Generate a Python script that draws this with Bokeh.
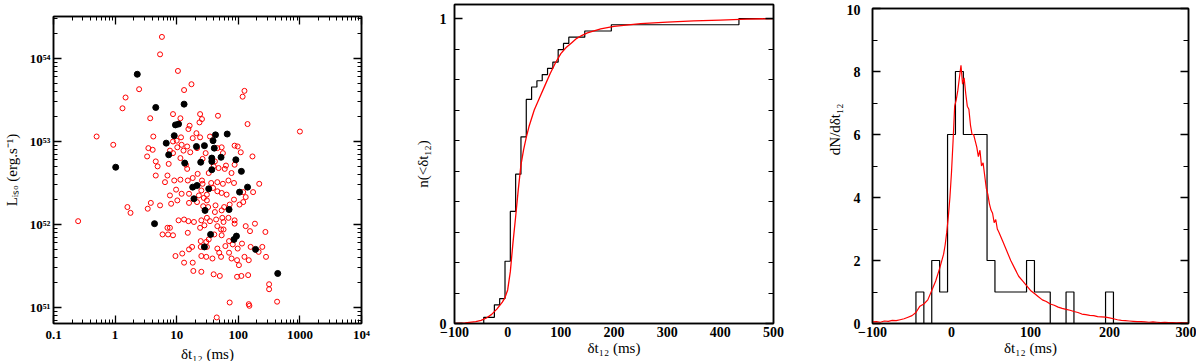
import numpy as np
from bokeh.plotting import figure
from bokeh.layouts import row, column
from bokeh.models import Range1d, FixedTicker, LinearAxis, LogAxis, Title, Spacer
from bokeh.embed import file_html
from bokeh.resources import INLINE

FONT = "Liberation Serif"

# ---------------- Panel 1 data (log10 values) ----------------
red_log_dt = [0.76, 0.73, 1.02, 1.24, 0.39, 1.12, 0.17, 0.12, 2.10, 2.07,
              0.57, 0.94, 1.06, 1.38, 1.41, 1.37, 1.67, 1.21, 1.19, 2.15,
              -0.30, -0.03, 0.62, 1.32, 1.00, 1.07, 0.54, 0.61, 0.52, 0.66,
              0.94, 1.01, 1.08, 1.17, 1.22, 1.11, 1.33, 1.26, 1.47, 1.42,
              1.38, 1.54, 1.73, 1.66, 1.75, 1.94, 1.99, 1.94, 2.04, 2.23,
              1.80, 1.89, 1.78, 1.60, 1.62, 1.68, 1.52, 1.34, 1.17, 1.15,
              1.06, 0.87, 0.85, 0.69, 0.66, 0.81, 0.96, 1.06, 1.18, 1.26,
              1.41, 1.42, 1.56, 1.66, 1.75, 1.84, 1.93, 2.08, 2.34, 2.24,
              2.12, 2.08, 2.02, 1.93, 1.81, 1.73, 1.66, 1.59, 1.49, 1.40,
              1.36, 1.20, 1.08, 0.99, 0.89, 0.91, 1.01, 1.20, 1.33, 1.44,
              1.49, 1.43, 1.51, 1.63, 1.62, 1.73, 1.77, 1.86, 1.84, 1.74,
              1.64, 1.49, 1.40, 1.28, 1.19, 1.12, 1.03, 0.89, 0.94, 0.77,
              1.18, 1.38, 1.45, 1.54, 1.66, 1.72, 1.76, 1.76, 1.94, 1.94,
              2.12, 2.19, 2.27, 2.44, 2.06, 1.99, 1.91, 1.85, 1.79, 1.73,
              1.61, 1.52, 1.48, 1.49, 1.39, 1.39, 1.25, 1.20, 1.09, 0.98,
              1.66, 1.69, 1.72, 1.85, 1.89, 1.98, 2.01, 2.10, 2.20, 2.39,
              2.33, 2.45, 2.17, 2.05, 1.98, 2.16, 2.50, 2.50, 1.60, 1.58,
              1.48, 1.40, 1.26, 1.12, 1.40, 1.70, 1.27, 1.86, 2.17, 2.18,
              2.63, 1.65, 0.20, 0.25, -0.60, 0.53, 0.58, 0.73, 0.85, 0.86,
              3.00, 0.94, 0.89]
red_log_L = [54.26, 54.05, 53.85, 53.69, 53.63, 53.62, 53.53, 53.40, 53.61, 53.54,
             53.28, 53.33, 53.28, 53.33, 53.27, 53.23, 53.31, 53.19, 53.15, 53.21,
             53.06, 52.96, 53.06, 53.10, 53.01, 53.05, 52.92, 52.90, 52.82, 52.76,
             52.86, 52.93, 52.96, 52.94, 52.87, 52.89, 52.92, 53.04, 52.86, 52.79,
             53.05, 53.06, 52.93, 52.92, 52.86, 52.95, 52.94, 52.72, 52.87, 52.82,
             52.71, 52.62, 52.67, 52.70, 52.76, 52.68, 52.62, 52.61, 52.67, 52.72,
             52.80, 52.73, 52.59, 52.70, 52.59, 52.51, 52.53, 52.54, 52.53, 52.56,
             52.53, 52.49, 52.50, 52.51, 52.49, 52.53, 52.50, 52.39, 52.49, 52.39,
             52.33, 52.27, 52.24, 52.30, 52.36, 52.38, 52.40, 52.44, 52.36, 52.41,
             52.35, 52.37, 52.37, 52.42, 52.35, 52.25, 52.29, 52.26, 52.27, 52.32,
             52.29, 52.22, 52.21, 52.23, 52.15, 52.17, 52.21, 52.24, 52.08, 52.08,
             52.06, 52.08, 52.05, 52.03, 52.04, 52.06, 52.05, 51.96, 51.87, 51.88,
             51.90, 51.96, 51.99, 52.04, 51.98, 51.94, 51.94, 52.03, 52.05, 52.01,
             51.98, 51.92, 52.01, 51.91, 51.77, 51.71, 51.76, 51.80, 51.74, 51.87,
             51.88, 51.82, 51.79, 51.73, 51.80, 51.73, 51.73, 51.70, 51.65, 51.62,
             51.71, 51.66, 51.61, 51.66, 51.59, 51.57, 51.51, 51.61, 51.73, 51.73,
             51.67, 51.61, 51.57, 51.38, 51.37, 51.39, 51.28, 51.22, 51.40, 51.59,
             51.61, 51.62, 51.54, 51.54, 51.43, 51.38, 51.44, 51.06, 51.04, 51.02,
             51.07, 50.88, 52.21, 52.14, 52.04, 52.19, 52.26, 52.23, 51.96, 51.88,
             53.12, 53.00, 52.89]

blk_log_dt = [0.36, 0.66, 1.12, 0.98, 1.03, 0.96, 1.63, 1.82, 0.83, 1.59,
              1.32, 1.45, 1.61, 0.87, 1.72, 1.96, 1.13, 1.39, 1.57, 1.57,
              2.05, 1.57, 2.15, 2.02, 1.26, 1.33, 1.52, 1.28, 1.46, 1.85,
              0.64, 1.55, 1.97, 1.93, 1.45, 2.28, 2.64, 0.01]
blk_log_L = [53.81, 53.41, 53.45, 53.20, 53.21, 53.07, 53.08, 53.09, 52.98, 53.01,
             52.94, 52.95, 52.92, 52.84, 52.81, 52.78, 52.74, 52.75, 52.80, 52.76,
             52.64, 52.66, 52.45, 52.39, 52.45, 52.47, 52.43, 52.31, 52.17, 52.18,
             52.01, 51.88, 51.86, 51.82, 51.73, 51.70, 51.41, 52.69]

# ---------------- Panels 2 & 3 data ----------------
hist_centers = [-40, -30, -20, -10, 0, 10, 20, 30, 40, 50, 60, 70, 80, 90, 100,
                110, 120, 130, 140, 150, 160, 170, 180, 190, 200]
hist_counts = [1, 0, 2, 1, 6, 8, 6, 6, 6, 2, 1, 1, 1, 1, 2,
               1, 1, 0, 0, 1, 0, 0, 0, 0, 1]
late_events = [440]
bin_width = 10

cdf_model_x = [-100, -80, -60, -50, -40, -30, -20, -10, -5, 0, 5, 10, 15, 20, 25, 30, 35, 40,
               50, 60, 70, 80, 90, 100, 110, 120, 130, 140, 150, 175, 200, 250, 300, 350,
               400, 450, 500]
cdf_model_y = [0.0, 0.002, 0.006, 0.010, 0.018, 0.030, 0.048, 0.070, 0.085, 0.11, 0.17, 0.265,
               0.35, 0.44, 0.52, 0.57, 0.61, 0.645, 0.70, 0.74, 0.78, 0.82, 0.855, 0.885,
               0.905, 0.92, 0.935, 0.945, 0.953, 0.966, 0.974, 0.983, 0.988, 0.992, 0.995,
               0.998, 1.0]

dens_x = [-100, -95, -90, -85, -80, -75, -70, -65, -60, -55, -50, -45, -40, -35, -30, -25,
          -20, -15, -10, -8, -6, -4, -2, 0, 2, 4, 6, 8, 10, 12, 14, 16, 18, 20, 22, 24, 26,
          28, 30, 32, 34, 36, 38, 40, 42, 44, 46, 48, 50, 52, 54, 56, 58, 60, 65, 70, 75,
          80, 85, 90, 95, 100, 105, 110, 115, 120, 125, 130, 135, 140, 145, 150, 155, 160,
          165, 170, 175, 180, 185, 190, 195, 200, 205, 210, 215, 220, 225, 230, 235, 240,
          245, 250, 255, 260, 265, 270, 275, 280, 285, 290, 295, 300]
dens_y = [0.05, 0.06, 0.04, 0.08, 0.07, 0.10, 0.09, 0.12, 0.15, 0.20, 0.25, 0.35, 0.55,
          0.62, 0.75, 1.05, 1.35, 1.75, 2.2, 2.5, 2.9, 3.4, 4.0, 4.8, 5.8, 6.9, 7.1, 7.4,
          7.8, 8.2, 7.6, 7.8, 7.3, 6.9, 6.8, 6.3, 6.0, 6.0, 5.8, 5.6, 5.3, 5.5, 5.0, 5.1,
          4.7, 4.3, 4.1, 3.8, 3.6, 3.5, 3.2, 3.3, 3.0, 2.9, 2.6, 2.3, 2.0, 1.75, 1.5, 1.35,
          1.2, 1.05, 0.95, 0.85, 0.75, 0.70, 0.62, 0.58, 0.52, 0.48, 0.45, 0.42, 0.38, 0.35,
          0.30, 0.28, 0.26, 0.25, 0.22, 0.21, 0.20, 0.18, 0.15, 0.12, 0.10, 0.09, 0.08, 0.07,
          0.06, 0.06, 0.05, 0.04, 0.05, 0.04, 0.03, 0.04, 0.03, 0.03, 0.02, 0.03, 0.02, 0.02]

# tick label texts
p1_x_labels = {0.1: "0.1", 1: "1", 10: "10", 100: "100", 1000: "1000", 10000: "10⁴"}
p1_y_labels = {1e51: "10⁵¹", 1e52: "10⁵²", 1e53: "10⁵³", 1e54: "10⁵⁴"}


def style(ax, major_in, minor_in, labels=True, lab_size="14px", standoff=3):
    ax.axis_line_color = "black"
    ax.axis_line_width = 1.5
    ax.major_tick_in = major_in
    ax.major_tick_out = 0
    ax.minor_tick_in = minor_in
    ax.minor_tick_out = 0
    ax.major_tick_line_color = "black"
    ax.minor_tick_line_color = "black"
    ax.major_tick_line_width = 1.3
    ax.minor_tick_line_width = 1
    if labels:
        ax.major_label_text_font = FONT
        ax.major_label_text_font_style = "bold"
        ax.major_label_text_font_size = lab_size
        ax.major_label_text_color = "black"
        ax.major_label_standoff = standoff
    else:
        ax.major_label_text_font_size = "1px"
        ax.major_label_text_color = None
        ax.major_label_standoff = 0
    ax.axis_label_text_font = FONT
    ax.axis_label_text_font_style = "normal"
    ax.axis_label_text_font_size = "15px"
    ax.axis_label_text_color = "black"


def base_fig(**kw):
    p = figure(output_backend="svg", toolbar_location=None, **kw)
    p.grid.visible = False
    p.outline_line_color = "black"
    p.outline_line_width = 1.5
    p.background_fill_color = "white"
    p.border_fill_color = "white"
    return p


# ---------------- Panel 1 ----------------
p1 = base_fig(frame_width=308, frame_height=307, x_axis_type="log", y_axis_type="log",
              x_range=Range1d(0.1, 1e4), y_range=Range1d(10 ** 50.807, 10 ** 54.506),
              min_border_left=52, min_border_right=40, min_border_top=4, min_border_bottom=38)
x_major = [0.1, 1, 10, 100, 1000, 10000]
x_minor = [m * 10.0 ** e for e in range(-1, 4) for m in range(2, 10)]
y_major = [1e51, 1e52, 1e53, 1e54]
y_minor = [m * 10.0 ** e for e in range(50, 55) for m in range(2, 10)]

xa = p1.xaxis[0]
xa.ticker = FixedTicker(ticks=x_major, minor_ticks=x_minor)
xa.major_label_overrides = p1_x_labels
xa.axis_label = "δt₁₂ (ms)"
style(xa, 8, 4, lab_size="13px", standoff=3)
xa.axis_label_standoff = 1
ya = p1.yaxis[0]
ya.ticker = FixedTicker(ticks=y_major, minor_ticks=y_minor)
ya.major_label_overrides = p1_y_labels
ya.axis_label = "Lᵢₛₒ (erg.s⁻¹)"
style(ya, 8, 4, lab_size="13px", standoff=3)
ya.axis_label_standoff = 7

top1 = LogAxis(ticker=FixedTicker(ticks=x_major, minor_ticks=x_minor))
style(top1, 8, 4, labels=False)
p1.add_layout(top1, "above")
right1 = LogAxis(ticker=FixedTicker(ticks=y_major, minor_ticks=y_minor))
style(right1, 8, 4, labels=False)
p1.add_layout(right1, "right")

p1.scatter(x=[10 ** v for v in red_log_dt], y=[10 ** v for v in red_log_L], marker="circle",
           size=5, fill_color=None, line_color="#ff0000", line_width=1)
p1.scatter(x=[10 ** v for v in blk_log_dt], y=[10 ** v for v in blk_log_L], marker="circle",
           size=6, fill_color="black", line_color="black")

# ---------------- Panel 2 ----------------
p2 = base_fig(frame_width=319, frame_height=319, x_range=Range1d(-100, 500),
              y_range=Range1d(0, 1.046),
              min_border_left=53, min_border_right=48, min_border_top=4, min_border_bottom=38)
xt2 = [-100, 0, 100, 200, 300, 400, 500]
xa2 = p2.xaxis[0]
xa2.ticker = FixedTicker(ticks=xt2, minor_ticks=[])
xa2.major_label_overrides = {-100: "−100"}
xa2.axis_label = "δt₁₂ (ms)"
style(xa2, 0, 0, lab_size="14px", standoff=3)
xa2.axis_label_standoff = 0
y2_minor = [0.1, 0.2, 0.3, 0.4, 0.5, 0.6, 0.7, 0.8, 0.9]
ya2 = p2.yaxis[0]
ya2.ticker = FixedTicker(ticks=[0, 1], minor_ticks=y2_minor)
ya2.axis_label = "n(<δt₁₂)"
style(ya2, 8, 5, lab_size="14px", standoff=8)
ya2.axis_label_standoff = 6
top2 = LinearAxis(ticker=FixedTicker(ticks=xt2, minor_ticks=[]))
style(top2, 0, 0, labels=False)
p2.add_layout(top2, "above")
right2 = LinearAxis(ticker=FixedTicker(ticks=[0, 1], minor_ticks=y2_minor))
style(right2, 8, 5, labels=False)
p2.add_layout(right2, "right")

total = sum(hist_counts) + len(late_events)
event_x = [c for c, n in zip(hist_centers, hist_counts) if n > 0] + late_events
event_n = [n for n in hist_counts if n > 0] + [1] * len(late_events)
cdf_x = [-100] + [c - bin_width / 2 for c in event_x] + [500]
cdf_y = [0.0] + [float(v) for v in np.cumsum(event_n) / total] + [1.0]
p2.step(cdf_x, cdf_y, mode="after", line_color="black", line_width=1.2)
p2.line(cdf_model_x, cdf_model_y, line_color="#ff0000", line_width=1.3)

# ---------------- Panel 3 ----------------
p3 = base_fig(frame_width=316, frame_height=315, x_range=Range1d(-100, 300),
              y_range=Range1d(0, 10),
              min_border_left=51, min_border_right=8, min_border_top=4, min_border_bottom=38)
xt3 = [-100, 0, 100, 200, 300]
xa3 = p3.xaxis[0]
xa3.ticker = FixedTicker(ticks=xt3, minor_ticks=[])
xa3.major_label_overrides = {-100: "−100"}
xa3.axis_label = "δt₁₂ (ms)"
style(xa3, 0, 0, lab_size="14px", standoff=3)
xa3.axis_label_standoff = 0
y3_major = [0, 2, 4, 6, 8, 10]
y3_minor = [1, 3, 5, 7, 9]
ya3 = p3.yaxis[0]
ya3.ticker = FixedTicker(ticks=y3_major, minor_ticks=y3_minor)
style(ya3, 8, 5, lab_size="14px", standoff=12)
top3 = LinearAxis(ticker=FixedTicker(ticks=xt3, minor_ticks=[]))
style(top3, 0, 0, labels=False)
p3.add_layout(top3, "above")
right3 = LinearAxis(ticker=FixedTicker(ticks=y3_major, minor_ticks=y3_minor))
style(right3, 8, 5, labels=False)
p3.add_layout(right3, "right")
p3.add_layout(Title(text="dN/dδt₁₂", align="right", offset=95, standoff=0,
                    vertical_align="middle", text_font=FONT, text_font_size="15px",
                    text_font_style="normal", text_color="black"), "left")

hx = [hist_centers[0] - bin_width / 2] + [c - bin_width / 2 for c in hist_centers] + \
     [hist_centers[-1] + bin_width / 2]
hy = [0] + hist_counts + [0]
p3.step(hx, hy, mode="after", line_color="black", line_width=1.2)
p3.line(dens_x, dens_y, line_color="#ff0000", line_width=1.2)

layout = row(column(Spacer(width=400, height=12), p1),
             p2,
             column(Spacer(width=375, height=4), p3))
open("out.html", "w").write(file_html(layout, INLINE))
